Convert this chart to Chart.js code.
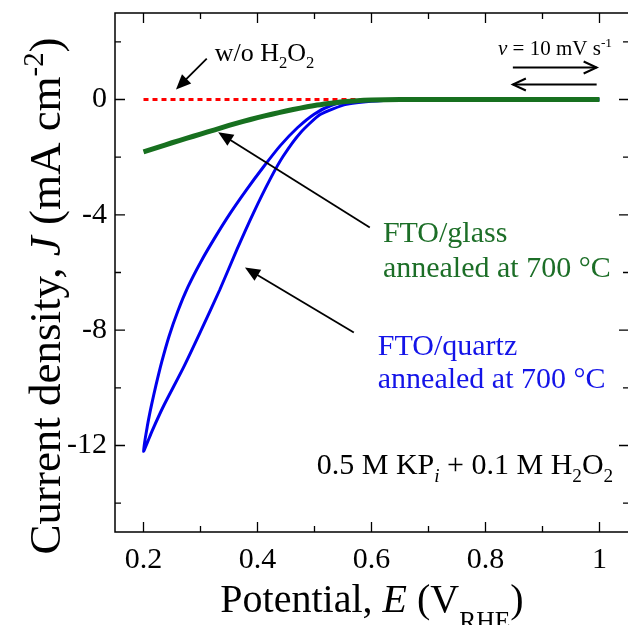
<!DOCTYPE html>
<html>
<head>
<meta charset="utf-8">
<script src="https://cdn.jsdelivr.net/npm/chart.js@4.4.1/dist/chart.umd.min.js"></script>
<style>
  html, body { margin: 0; padding: 0; background: #fff; overflow: hidden; }
</style>
</head>
<body>
<canvas id="cv" width="628" height="625"></canvas>
<script>
// potential E (V vs RHE) / current density J (mA cm-2)

// FTO/quartz, cathodic sweep then return sweep
var quartzE = [1.0, 0.8, 0.7, 0.621, 0.556, 0.51, 0.475, 0.445, 0.422, 0.393, 0.364, 0.334, 0.3, 0.27, 0.235, 0.215, 0.2,
               0.207, 0.214, 0.222, 0.232, 0.245, 0.26, 0.278, 0.3, 0.325, 0.352, 0.38, 0.41, 0.44, 0.47, 0.5, 0.53, 0.56, 0.6, 0.65, 0.8, 1.0];
var quartzJ = [0, 0, 0, -0.035, -0.17, -0.52, -1.16, -1.97, -2.77, -3.93, -5.2, -6.59, -8.05, -9.3, -10.64, -11.5, -12.2,
               -11.3, -10.6, -9.9, -9.1, -8.2, -7.35, -6.5, -5.65, -4.8, -3.95, -3.15, -2.35, -1.6, -0.98, -0.5, -0.2, -0.07, -0.02, 0, 0, 0];

// FTO/glass
var glassE = [0.2, 0.225, 0.25, 0.275, 0.3, 0.325, 0.35, 0.375, 0.4, 0.425, 0.45, 0.475, 0.5, 0.525, 0.55, 0.575, 0.6, 0.65, 0.7, 0.8, 0.9, 1.0];
var glassJ = [-1.82, -1.66, -1.5, -1.35, -1.2, -1.05, -0.9, -0.76, -0.63, -0.51, -0.4, -0.3, -0.21, -0.14, -0.08, -0.04, -0.02, 0, 0, 0, 0, 0];

// without H2O2
var blankE = [0.2, 1.0];
var blankJ = [0, 0];

var xTickLabels = ['0.2', '0.4', '0.6', '0.8', '1'];
var yTickLabels = ['0', '-4', '-8', '-12'];

var SERIF = '"Liberation Serif", "Times New Roman", serif';

function toPoints(xs, ys) {
  var pts = [];
  for (var i = 0; i < xs.length; i++) pts.push({x: xs[i], y: ys[i]});
  return pts;
}

function xLabel(v) {
  var s = (Math.round(v * 10) / 10).toString();
  return xTickLabels.indexOf(s) >= 0 ? s : '';
}
function yLabel(v) {
  var s = String(Math.round(v));
  return yTickLabels.indexOf(s) >= 0 ? s : '';
}

// tick every 0.1 V from 0.2 to 1.0, every 2 mA cm-2 from -14 to 2
function setXTicks(s) {
  var t = [];
  for (var i = 2; i <= 10; i++) t.push({value: i / 10});
  s.ticks = t;
}
function setYTicks(s) {
  var t = [];
  for (var v = -14; v <= 2; v += 2) t.push({value: v});
  s.ticks = t;
}

// text with italic / sub / superscript pieces
function partFont(p, size) {
  var s = (p.sub || p.sup) ? size * 0.64 : size;
  return (p.it ? 'italic ' : '') + s + 'px ' + SERIF;
}
function richWidth(ctx, parts, size) {
  var w = 0;
  parts.forEach(function(p) { ctx.font = partFont(p, size); w += ctx.measureText(p.t).width; });
  return w;
}
function drawRich(ctx, parts, x, y, size, align, color) {
  var w = richWidth(ctx, parts, size);
  var cx = align === 'right' ? x - w : (align === 'center' ? x - w / 2 : x);
  ctx.fillStyle = color;
  ctx.textBaseline = 'alphabetic';
  ctx.textAlign = 'left';
  parts.forEach(function(p) {
    ctx.font = partFont(p, size);
    var dy = p.sub ? size * (p.drop || 0.24) : (p.sup ? -size * 0.38 : 0);
    ctx.fillText(p.t, cx, y + dy);
    cx += ctx.measureText(p.t).width;
  });
}

function arrow(ctx, x1, y1, x2, y2, filled) {
  var a = Math.atan2(y2 - y1, x2 - x1);
  var len = filled ? 15 : 13, hw = filled ? 6.5 : 6;
  ctx.strokeStyle = '#000';
  ctx.fillStyle = '#000';
  ctx.lineWidth = filled ? 1.8 : 2;
  ctx.beginPath();
  ctx.moveTo(x1, y1);
  ctx.lineTo(filled ? x2 - Math.cos(a) * len * 0.8 : x2, filled ? y2 - Math.sin(a) * len * 0.8 : y2);
  ctx.stroke();
  var bx = x2 - Math.cos(a) * len, by = y2 - Math.sin(a) * len;
  var px = -Math.sin(a) * hw, py = Math.cos(a) * hw;
  ctx.beginPath();
  ctx.moveTo(bx + px, by + py);
  ctx.lineTo(x2, y2);
  ctx.lineTo(bx - px, by - py);
  if (filled) { ctx.closePath(); ctx.fill(); } else { ctx.stroke(); }
}

var framePlugin = {
  id: 'frame',
  afterDatasetsDraw: function(chart) {
    var ctx = chart.ctx, a = chart.chartArea;
    var xs = chart.scales.x, ys = chart.scales.y;
    ctx.save();
    ctx.strokeStyle = '#000';
    ctx.lineWidth = 1.5;
    // right spine sits just past the canvas edge, so only three sides show
    ctx.beginPath();
    ctx.moveTo(a.right + 2, a.top);
    ctx.lineTo(a.left, a.top);
    ctx.lineTo(a.left, a.bottom);
    ctx.lineTo(a.right + 2, a.bottom);
    ctx.stroke();
    // inward ticks on all four sides
    ctx.lineWidth = 1.3;
    xs.ticks.forEach(function(t) {
      var px = xs.getPixelForValue(t.value);
      var l = xLabel(t.value) ? 10 : 6;
      ctx.beginPath();
      ctx.moveTo(px, a.bottom); ctx.lineTo(px, a.bottom - l);
      ctx.moveTo(px, a.top); ctx.lineTo(px, a.top + l);
      ctx.stroke();
    });
    ys.ticks.forEach(function(t) {
      var py = ys.getPixelForValue(t.value);
      var l = yLabel(t.value) ? 10 : 6;
      ctx.beginPath();
      ctx.moveTo(a.left, py); ctx.lineTo(a.left + l, py);
      ctx.moveTo(a.right + 1, py); ctx.lineTo(a.right + 1 - l, py);
      ctx.stroke();
    });

    function P(e, j) { return [xs.getPixelForValue(e), ys.getPixelForValue(j)]; }

    // annotations
    var p, q;
    p = P(0.311, 1.42); q = P(0.257, 0.35);
    arrow(ctx, p[0], p[1], q[0], q[1], true);
    p = P(0.597, -4.44); q = P(0.331, -1.14);
    arrow(ctx, p[0], p[1], q[0], q[1], true);
    p = P(0.569, -8.08); q = P(0.378, -5.83);
    arrow(ctx, p[0], p[1], q[0], q[1], true);
    p = P(0.848, 1.11); q = P(0.995, 1.11);
    arrow(ctx, p[0], p[1], q[0], q[1], false);
    p = P(0.995, 0.52); q = P(0.848, 0.52);
    arrow(ctx, p[0], p[1], q[0], q[1], false);

    p = P(0.325, 1.32);
    drawRich(ctx, [{t: 'w/o H'}, {t: '2', sub: 1}, {t: 'O'}, {t: '2', sub: 1}], p[0], p[1], 26, 'left', '#000');
    p = P(0.822, 1.56);
    drawRich(ctx, [{t: 'v', it: 1}, {t: ' = 10 mV s'}, {t: '-1', sup: 1}], p[0], p[1], 21, 'left', '#000');

    var green = '#1c6e27', blue = '#1414e8';
    p = P(0.62, -4.93);
    drawRich(ctx, [{t: 'FTO/glass'}], p[0], p[1], 30, 'left', green);
    p = P(0.62, -6.14);
    drawRich(ctx, [{t: 'annealed at 700 \u00b0C'}], p[0], p[1], 30, 'left', green);
    p = P(0.611, -8.85);
    drawRich(ctx, [{t: 'FTO/quartz'}], p[0], p[1], 30, 'left', blue);
    p = P(0.611, -10.02);
    drawRich(ctx, [{t: 'annealed at 700 \u00b0C'}], p[0], p[1], 30, 'left', blue);

    p = P(1.024, -13.0);
    drawRich(ctx, [{t: '0.5 M KP'}, {t: 'i', it: 1, sub: 1}, {t: ' + 0.1 M H'}, {t: '2', sub: 1}, {t: 'O'}, {t: '2', sub: 1}],
             p[0], p[1], 30, 'right', '#000');

    // axis titles
    drawRich(ctx, [{t: 'Potential, '}, {t: 'E', it: 1}, {t: ' (V'}, {t: 'RHE', sub: 1, drop: 0.42}, {t: ')'}],
             372, 612, 40, 'center', '#000');
    ctx.save();
    ctx.translate(60, 296);
    ctx.rotate(-Math.PI / 2);
    drawRich(ctx, [{t: 'Current density, '}, {t: 'J', it: 1}, {t: ' (mA cm'}, {t: '-2', sup: 1}, {t: ')'}],
             0, 0, 45, 'center', '#000');
    ctx.restore();
    ctx.restore();
  }
};

var ctx = document.getElementById('cv').getContext('2d');
var chart = new Chart(ctx, {
  type: 'scatter',
  data: {
    datasets: [{
      label: 'FTO/glass',
      data: toPoints(glassE, glassJ),
      showLine: true,
      borderColor: '#17701f',
      borderWidth: 5,
      pointRadius: 0,
      tension: 0.3
    }, {
      label: 'w/o H2O2',
      data: toPoints(blankE, blankJ),
      showLine: true,
      borderColor: '#ff0000',
      borderWidth: 3,
      borderDash: [5, 4],
      pointRadius: 0
    }, {
      label: 'FTO/quartz',
      data: toPoints(quartzE, quartzJ),
      showLine: true,
      borderColor: '#0000ee',
      borderWidth: 3,
      pointRadius: 0,
      tension: 0.2
    }]
  },
  options: {
    responsive: false,
    animation: false,
    layout: { padding: { top: 13, left: 0, right: 0, bottom: 0 } },
    plugins: { legend: { display: false }, tooltip: { enabled: false } },
    scales: {
      x: {
        type: 'linear',
        min: 0.15,
        max: 1.05,
        grid: { display: false, drawTicks: false },
        border: { display: false },
        afterBuildTicks: setXTicks,
        ticks: {
          autoSkip: false,
          maxRotation: 0,
          padding: 10,
          color: '#000',
          font: { family: SERIF, size: 30 },
          callback: function(v) { return xLabel(v); }
        },
        afterFit: function(s) { s.height = 93; s.paddingLeft = 0; s.paddingRight = 0; }
      },
      y: {
        type: 'linear',
        min: -15,
        max: 3,
        grid: { display: false, drawTicks: false },
        border: { display: false },
        afterBuildTicks: setYTicks,
        ticks: {
          autoSkip: false,
          padding: 8,
          color: '#000',
          font: { family: SERIF, size: 30 },
          callback: function(v) { return yLabel(v); }
        },
        afterFit: function(s) { s.width = 115; s.paddingTop = 0; s.paddingBottom = 0; }
      }
    }
  },
  plugins: [framePlugin]
});
</script>
</body>
</html>
